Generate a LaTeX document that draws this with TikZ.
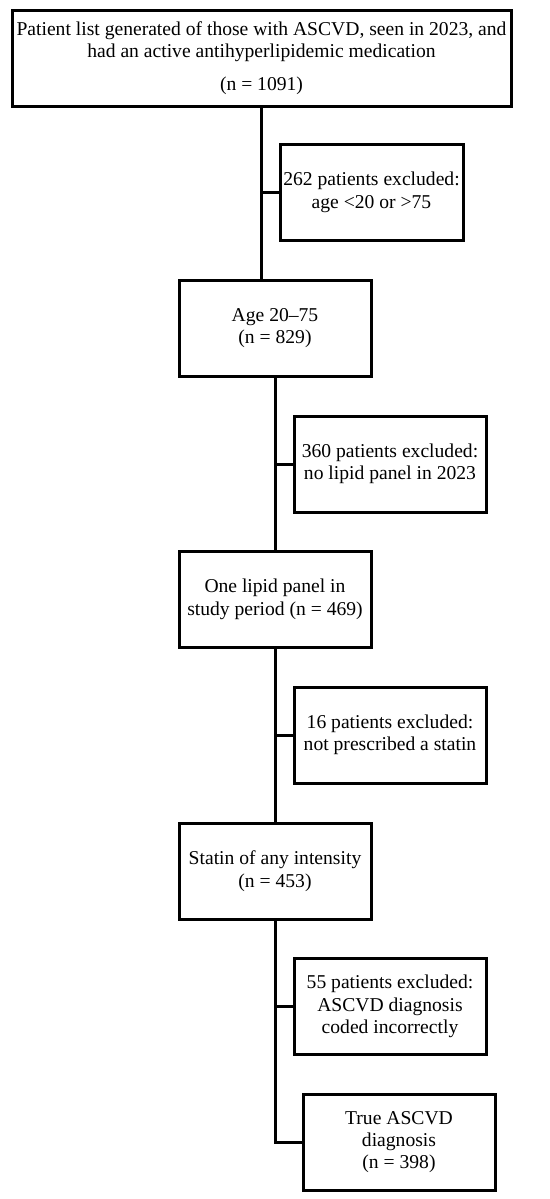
\documentclass[tikz,border=0pt]{standalone}
\usepackage{fontspec}
\setmainfont{Liberation Serif}
\usetikzlibrary{calc}

\begin{document}
\begin{tikzpicture}[x=0.5pt,y=-0.5pt,
  box/.style={draw,line width=1.5pt,align=center,inner sep=1pt,
    minimum width=96pt,minimum height=48pt,font=\fontsize{9.8}{11.2}\selectfont},
  link/.style={line width=1.5pt}]
  \useasboundingbox (0,0) rectangle (550,1199);

  % main column
  \node[box,minimum width=249.5pt] (list) at (261.5,58)
    {Patient list generated of those with ASCVD, seen in 2023, and\\
     had an active antihyperlipidemic medication\\[5pt] (n = 1091)};
  \node[box] (age) at (275,328) {Age 20--75\\ (n = 829)};
  \node[box] (lipid) at (275,599.5) {One lipid panel in\\ study period (n = 469)};
  \node[box] (statin) at (275,871) {Statin of any intensity\\ (n = 453)};
  \node[box] (true) at (399,1142) {True ASCVD\\ diagnosis\\ (n = 398)};

  % exclusions on the right
  \node[box,minimum width=91.5pt] (exAge) at (371.5,192.5)
    {262 patients excluded:\\ age <20 or >75};
  \node[box] (exLipid) at (390,464) {360 patients excluded:\\ no lipid panel in 2023};
  \node[box] (exStatin) at (390,735) {16 patients excluded:\\ not prescribed a statin};
  \node[box] (exCode) at (390,1006.5)
    {55 patients excluded:\\ ASCVD diagnosis\\ coded incorrectly};

  % spine and branches
  \draw[link] (list.south) -- (list.south |- age.north);
  \draw[link] (list.south |- exAge.west) -- (exAge.west);
  \draw[link] (age.south) -- (lipid.north);
  \draw[link] (age.south |- exLipid.west) -- (exLipid.west);
  \draw[link] (lipid.south) -- (statin.north);
  \draw[link] (lipid.south |- exStatin.west) -- (exStatin.west);
  \draw[link] (statin.south) -- (statin.south |- true.west) -- (true.west);
  \draw[link] (statin.south |- exCode.west) -- (exCode.west);
\end{tikzpicture}
\end{document}
